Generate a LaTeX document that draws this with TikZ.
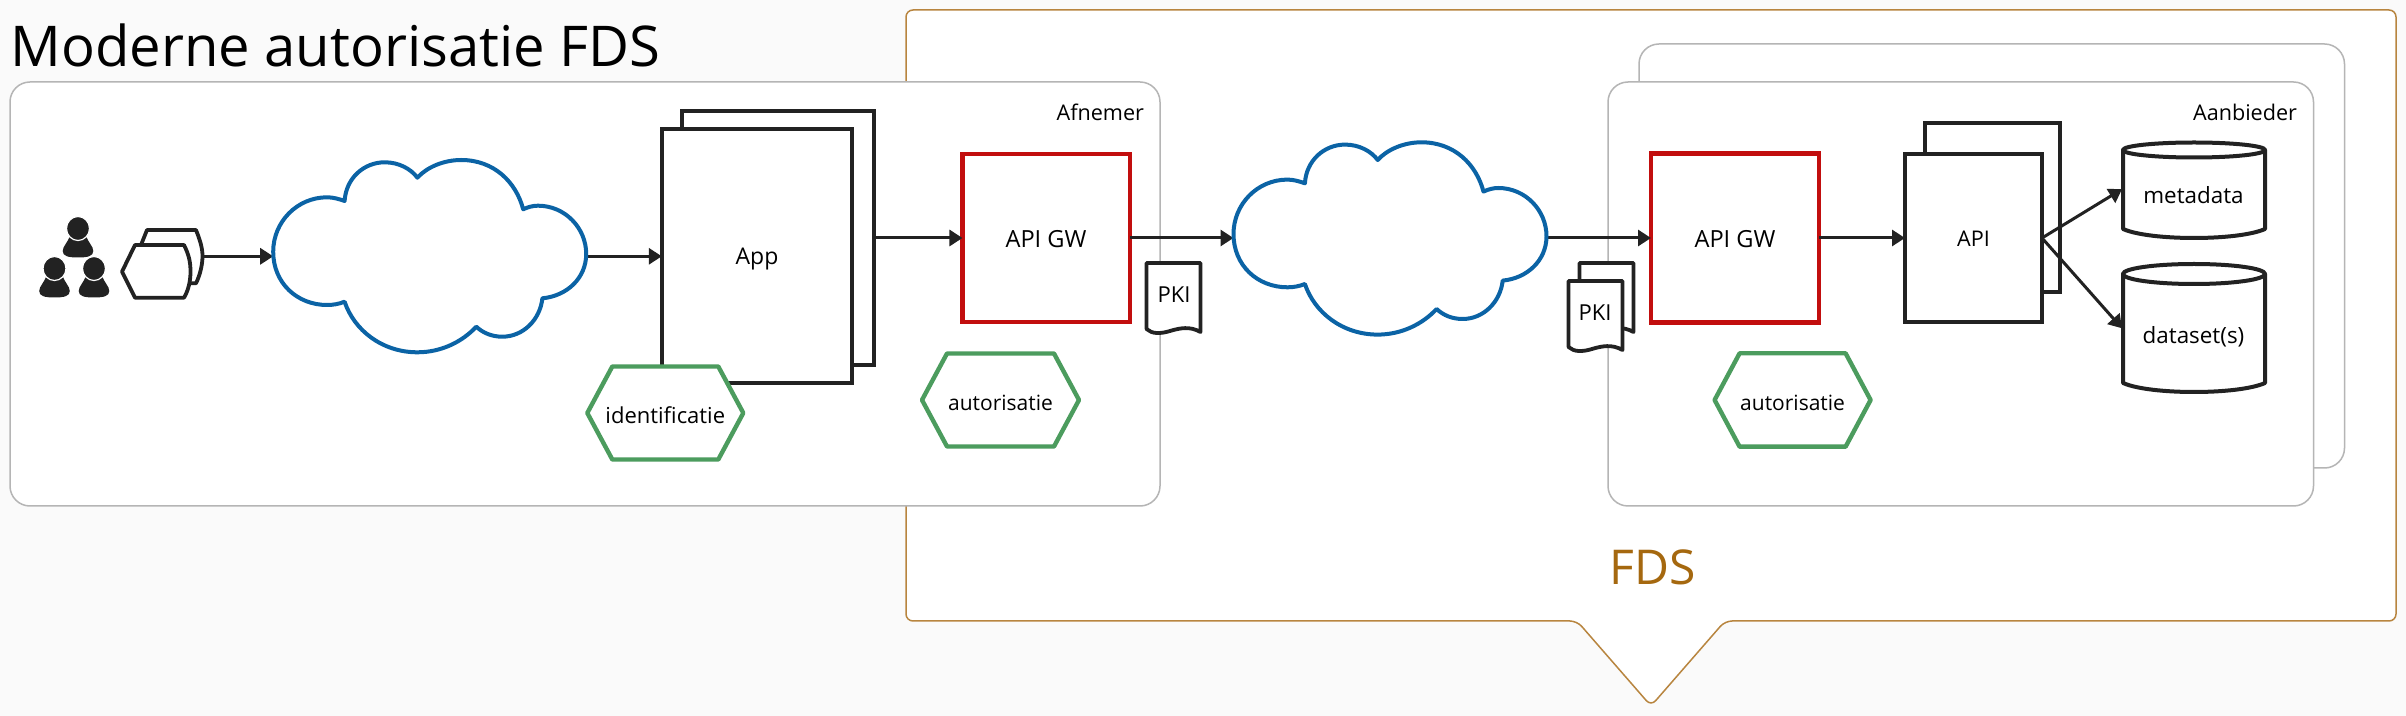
\documentclass[tikz,border=0pt]{standalone}
\usepackage{fontspec}
\setmainfont{Open Sans}
\usetikzlibrary{arrows.meta}
\definecolor{bgc}{HTML}{FAFAFA}
\definecolor{ink}{HTML}{222222}
\definecolor{cloudblue}{HTML}{0B63A5}
\definecolor{gwred}{HTML}{C20E0E}
\definecolor{hexgreen}{HTML}{4C9C5E}
\definecolor{fdsline}{HTML}{B8853F}
\definecolor{fdstext}{HTML}{A5680F}
\definecolor{zone}{HTML}{B5B5B5}
\newcommand{\fsz}[1]{\fontsize{#1}{13}\selectfont}
\tikzset{
  x=0.5pt,y=-0.5pt,
  pxsize/.style 2 args={minimum width=#1*0.5pt,minimum height=#2*0.5pt,inner sep=0pt,outer sep=0pt},
  zonebox/.style={draw=zone,line width=0.75pt,fill=white,rounded corners=10pt},
  fdsbox/.style={draw=fdsline,line width=0.75pt,fill=white,rounded corners=3.5pt},
  darkbox/.style={draw=ink,line width=2pt,fill=white},
  gwbox/.style={draw=gwred,line width=2.4pt,fill=white},
  hexline/.style={draw=hexgreen,line width=2.2pt,fill=white,line join=round},
  cloudline/.style={draw=cloudblue,line width=2pt,fill=white,line join=round},
  docline/.style={draw=ink,line width=1.9pt,fill=white,line join=round},
  cylline/.style={draw=ink,line width=2pt,fill=white,line join=round},
  arr/.style={draw=ink,line width=1.5pt,-{Triangle[length=6.5pt,width=8pt]}},
  lab/.style={inner sep=0pt,outer sep=0pt,font=\fsz{11},text=black},
  ghost/.style={inner sep=0pt,outer sep=0pt},
}
\newcommand{\cloudshape}[2]{%
  \draw[cloudline,shift={(#1,#2)}]
    (344.6,201) .. controls (346,178) and (364,162.3) .. (384.8,162.3)
    .. controls (399,162.3) and (411,169) .. (417.4,177.7)
    .. controls (427,167) and (444,160) .. (461.2,160)
    .. controls (494,160) and (516,182) .. (523.2,209.3)
    .. controls (528,207) and (533,205.7) .. (538,205.7)
    .. controls (565,205.7) and (586.2,228) .. (586.2,254)
    .. controls (586.2,278) and (567,296) .. (542.4,298.3)
    .. controls (540,320) and (523,336.7) .. (502.2,336.7)
    .. controls (492,336.7) and (483,333) .. (476.3,326.7)
    .. controls (462,342) and (441,352.3) .. (417.4,352.3)
    .. controls (382,352.3) and (354,330) .. (344.6,301.7)
    .. controls (339,304) and (333,305) .. (327.2,305)
    .. controls (297,305) and (273.2,283) .. (273.2,251.7)
    .. controls (273.2,222) and (297,197.3) .. (327.2,197.3)
    .. controls (333,197.3) and (339,199) .. (344.6,201) -- cycle;}
\newcommand{\hexnode}[8]{%
  \draw[hexline,shift={(#2,#3)}] (-#4,0) -- (-#4+#6,-#5) -- (#4-#6,-#5) -- (#4,0) -- (#4-#6,#5) -- (-#4+#6,#5) -- cycle;
  \node[lab,font=\fsz{#8}] (#1) at (#2,#3+2.5) {#7};}
\newcommand{\docshape}[2]{%
  \draw[docline,shift={(#1,#2)}] (1146.5,329) -- (1146.5,263) -- (1200.5,263) -- (1200.5,332)
    .. controls (1190,326) and (1180,328) .. (1170,331)
    .. controls (1160,334) and (1152,334) .. (1146.5,329) -- cycle;}
\newcommand{\cyl}[7]{% name, cy, ry, side-bottom, text, text y, box height
  \draw[cylline] (2123,#2) -- (2123,#4) .. controls (2150,{#4+12}) and (2238,{#4+12}) .. (2265,#4) -- (2265,#2) -- cycle;
  \draw[cylline] (2194,#2) ellipse [x radius=71,y radius=#3];
  \node[pxsize={144}{#7}] (#1) at (2194,#6) {};}
\newcommand{\person}[2]{%
  \fill[ink,shift={(#1,#2)}] (-8,18) .. controls (-10,26) and (-15.3,29) .. (-15.3,34)
    .. controls (-15.3,39) and (-10,40.5) .. (0,40.5)
    .. controls (10,40.5) and (15.3,39) .. (15.3,34)
    .. controls (15.3,29) and (10,26) .. (8,18) -- cycle;
  \draw[fill=ink,draw=white,line width=0.6pt,shift={(#1,#2)}] (0,11.5) ellipse [x radius=11.5,y radius=12];}
\begin{document}
\begin{tikzpicture}
\path[fill=bgc,use as bounding box] (0,0) rectangle (2406,716);
% FDS callout
\draw[fdsbox] (906,10) -- (2396,10) -- (2396,621) -- (1725,621) -- (1651,706) -- (1577,621) -- (906,621) -- cycle;
\node[inner sep=0pt,font=\fontsize{24}{28}\selectfont,text=fdstext] (fdslabel) at (1653,567) {FDS};
% zones
\draw[zonebox] (10,82) rectangle (1160,506);
\draw[zonebox] (1639,44) rectangle (2344.5,468);
\draw[zonebox] (1608,82) rectangle (2313.5,506);
\node[lab,anchor=base east,font=\fsz{10.8}] (afnemer) at (1144,120.7) {Afnemer};
\node[lab,anchor=base east,font=\fsz{10.8}] (aanbieder) at (2297,120.7) {Aanbieder};
% title
\node[anchor=base west,inner sep=0pt,font=\fontsize{28.1}{32}\selectfont,text=black] (title) at (10,67) {Moderne autorisatie FDS};
% people
\person{78}{217}
\person{54.5}{257}
\person{94}{257}
% user pages
\draw[docline,line width=1.9pt] (141,245) -- (147,230) -- (196,230) .. controls (200,240) and (202.5,248) .. (202.5,256)
  .. controls (202.5,265) and (200,275) .. (196,283.3) -- (188,283.3) -- cycle;
\draw[docline,line width=1.9pt] (122,271.7) -- (135,245) -- (184,245) .. controls (189,255) and (190.5,262) .. (190.5,271.7)
  .. controls (190.5,282) and (188,291) .. (184,297.7) -- (135,297.7) -- cycle;
\coordinate (userend) at (203,256.3);
% clouds
\node[ghost,pxsize={313}{192.3}] (cloudA) at (429.7,256.3) {};
\node[ghost,pxsize={313}{192.3}] (cloudB) at (1390,238) {};
% App
\node[darkbox,pxsize={192}{254}] (appback) at (778,238) {};
\node[darkbox,pxsize={190.6}{254}] (app) at (757.1,256.3) {};
\node[lab,font=\fsz{11.5}] (applabel) at (757,259) {App};
\hexnode{ident}{665.3}{413}{78}{46.5}{25}{identificatie}{11}
% Gateway 1
\node[gwbox,pxsize={167.5}{168}] (gwA) at (1046.2,238) {};
\node[lab,font=\fsz{11.8}] (gwAlabel) at (1046,239.5) {API GW};
\hexnode{autA}{1000.5}{400}{78.5}{46.5}{25}{autorisatie}{10.5}
% PKI 1
\docshape{0}{0}
\node[lab] (pkiA) at (1174,295) {PKI};
% PKI 2
\docshape{433}{0}
\docshape{422}{18}
\node[lab] (pkiB) at (1595,313) {PKI};
% Gateway 2
\node[gwbox,pxsize={168}{168.5}] (gwB) at (1735,238) {};
\node[lab,font=\fsz{11.8}] (gwBlabel) at (1735,239.5) {API GW};
\hexnode{autB}{1792.6}{400}{78}{46.7}{25}{autorisatie}{10.5}
% API
\node[darkbox,pxsize={135.4}{169}] (apiback) at (1992.3,207.2) {};
\node[darkbox,pxsize={137}{168.7}] (api) at (1973.5,238) {};
\node[lab,font=\fsz{10.8}] (apilabel) at (1973.5,239) {API};
% cylinders
\cyl{meta}{150}{7.5}{229}{metadata}{189.2}{97}
\node[lab,font=\fsz{11.2}] (metatext) at (2193.5,195) {metadata};
\cyl{data}{274}{10}{383}{dataset(s)}{328.3}{132}
\node[lab,font=\fsz{11.2}] (datatext) at (2193.5,337) {dataset(s)};
% connectors
\draw[arr] (userend) -- (cloudA.west);
\draw[arr] (cloudA.east) -- (app.west);
\draw[arr] (appback.east) -- (gwA.west);
\draw[arr] (gwA.east) -- (cloudB.west);
\draw[arr] (cloudB.east) -- (gwB.west);
\draw[arr] (gwB.east) -- (api.west);
\draw[arr] (api.east) -- (meta.west);
\draw[arr] (api.east) -- (data.west);
% clouds on top of arrow ends
\cloudshape{0}{0}
\cloudshape{960.3}{-17.7}
\end{tikzpicture}
\end{document}
